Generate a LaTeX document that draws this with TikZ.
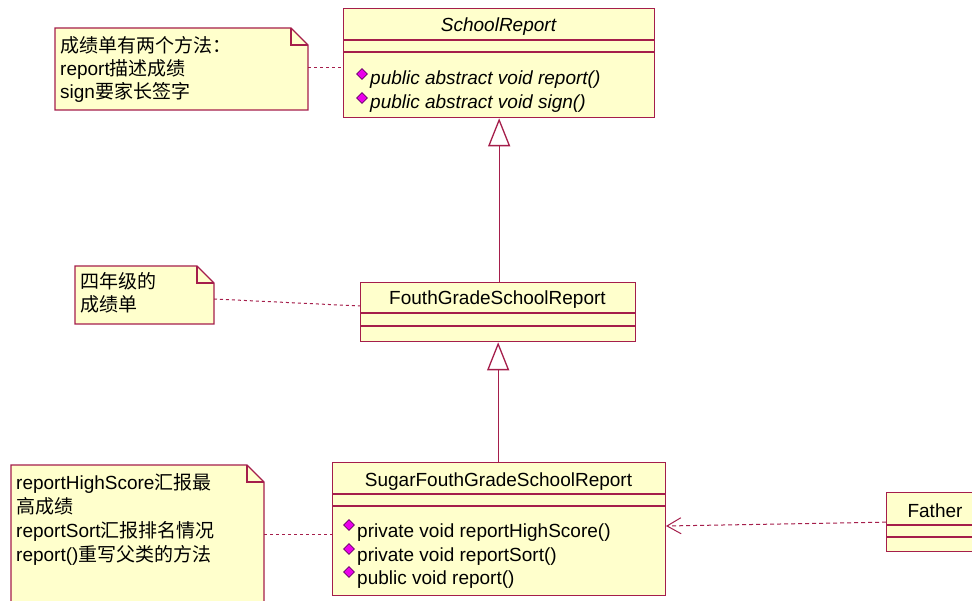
\documentclass[tikz,border=0pt]{standalone}
\usepackage{fontspec}
\setmainfont{Liberation Sans}
\newfontfamily\cjk{Noto Sans CJK SC}
\usepackage{xcolor}
\usetikzlibrary{shapes.geometric, arrows.meta, positioning, calc}
\definecolor{umlred}{RGB}{165, 30, 75}
\definecolor{umlfill}{RGB}{255, 255, 204}
\definecolor{markpink}{RGB}{235, 0, 235}
\definecolor{markedge}{RGB}{100, 0, 100}
\newcommand{\umlfont}{\fontsize{19}{23}\selectfont}

\tikzset{
  classbox/.style={draw=umlred, fill=umlfill, line width=1.3pt, inner sep=0pt, anchor=north west},
  compline/.style={umlred, line width=1.3pt},
  classname/.style={font=\umlfont, inner sep=0pt},
  methodtext/.style={font=\umlfont, inner sep=0pt, anchor=west},
  methodmark/.style={diamond, draw=markedge, fill=markpink, inner sep=0pt, minimum size=11pt, line width=0.8pt},
  notebox/.style={draw=umlred, fill=umlfill, line width=1.3pt},
  notetext/.style={font=\umlfont, align=left, inner sep=0pt, anchor=north west},
  notelink/.style={umlred, line width=1pt, dash pattern=on 3pt off 3pt},
  inherit/.style={umlred, line width=1.3pt, -{Triangle[open, width=22pt, length=28pt, line width=1.3pt]}},
  depends/.style={umlred, line width=1pt, dash pattern=on 4pt off 3pt, -{Straight Barb[length=14pt, width=16pt, line width=1pt]}},
}

\begin{document}
\begin{tikzpicture}[x=1pt, y=-1pt]
\useasboundingbox (0,0) rectangle (972,601);
\fill[white] (0,0) rectangle (972,601);

% SchoolReport — abstract base class
\node[classbox, minimum width=311pt, minimum height=109pt] (school) at (343,8) {};
\draw[compline] (343,40) -- (654,40);
\draw[compline] (343,52) -- (654,52);
\node[classname, font=\umlfont\itshape] (schoolname) at (498.5,27) {SchoolReport};
\node[methodmark] (schoolmarkA) at (362,74) {};
\node[methodtext] (schoolopA) at (370,80) {\itshape public abstract void report()};
\node[methodmark] (schoolmarkB) at (362,98) {};
\node[methodtext] (schoolopB) at (370,104) {\itshape public abstract void sign()};

% note on SchoolReport
\draw[notebox] (55,28) -- (291,28) -- (308,45) -- (308,110) -- (55,110) -- cycle;
\draw[compline] (291,28) -- (291,45) -- (308,45);
\node[notetext] (notea) at (60,36) {{\cjk 成绩单有两个方法：}\\report{\cjk 描述成绩}\\sign{\cjk 要家长签字}};
\coordinate (notealink) at (308,68);
\draw[notelink] (notealink) -- (school.west |- notealink);

% FouthGradeSchoolReport
\node[classbox, minimum width=275pt, minimum height=59pt] (fourth) at (360,282) {};
\draw[compline] (360,313) -- (635,313);
\draw[compline] (360,326) -- (635,326);
\node[classname] (fourthname) at (497.5,300) {FouthGradeSchoolReport};
\draw[inherit] (fourth.north -| school.south) -- (school.south);

% note on FouthGradeSchoolReport
\draw[notebox] (75,266) -- (197,266) -- (214,283) -- (214,324) -- (75,324) -- cycle;
\draw[compline] (197,266) -- (197,283) -- (214,283);
\node[notetext] (noteb) at (80,272) {{\cjk 四年级的}\\{\cjk 成绩单}};
\coordinate (noteblink) at (214,299);
\coordinate (fourthlink) at (360,306);
\draw[notelink] (noteblink) -- (fourthlink);

% SugarFouthGradeSchoolReport
\node[classbox, minimum width=333pt, minimum height=133pt] (sugar) at (332,462) {};
\draw[compline] (332,494) -- (665,494);
\draw[compline] (332,506) -- (665,506);
\node[classname] (sugarname) at (498.5,482) {SugarFouthGradeSchoolReport};
\node[methodmark] (sugarmarkA) at (349,525) {};
\node[methodtext] (sugaropA) at (357,533) {private void reportHighScore()};
\node[methodmark] (sugarmarkB) at (349,549) {};
\node[methodtext] (sugaropB) at (357,557) {private void reportSort()};
\node[methodmark] (sugarmarkC) at (349,572) {};
\node[methodtext] (sugaropC) at (357,580) {public void report()};
\draw[inherit] (sugar.north -| fourth.south) -- (fourth.south);

% note on SugarFouthGradeSchoolReport
\draw[notebox] (11,465) -- (247,465) -- (264,482) -- (264,615) -- (11,615) -- cycle;
\draw[compline] (247,465) -- (247,482) -- (264,482);
\node[notetext, font=\fontsize{19}{24}\selectfont] (notec) at (16,473) {reportHighScore{\cjk 汇报最}\\{\cjk 高成绩}\\reportSort{\cjk 汇报排名情况}\\report(){\cjk 重写父类的方法}};
\coordinate (noteclink) at (264,534);
\draw[notelink] (noteclink) -- (sugar.west |- noteclink);

% Father
\node[classbox, minimum width=100pt, minimum height=59pt] (father) at (886,492) {};
\draw[compline] (886,525) -- (986,525);
\draw[compline] (886,537) -- (986,537);
\node[classname] (fathername) at (935,511) {Father};
\coordinate (sugarlink) at (666,526);
\draw[depends] (father.west) -- (sugarlink);

\end{tikzpicture}
\end{document}
